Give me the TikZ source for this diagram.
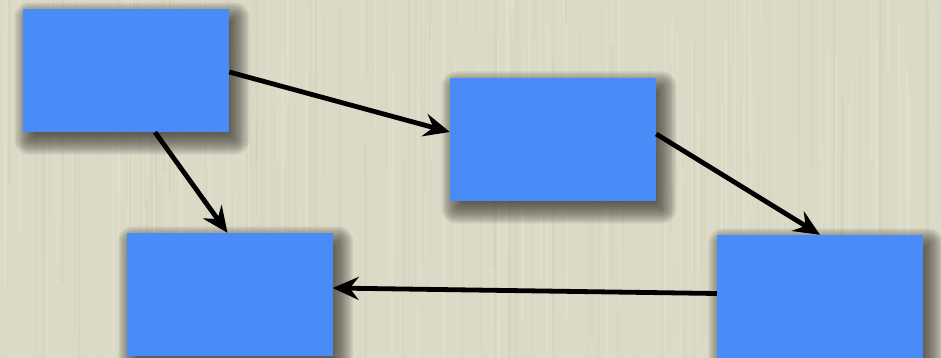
\documentclass[tikz,border=0pt]{standalone}
\usetikzlibrary{arrows.meta}

\definecolor{paper}{RGB}{219,218,198}
\definecolor{paperlight}{RGB}{230,229,212}
\definecolor{paperdark}{RGB}{204,203,180}
\definecolor{boxblue}{RGB}{73,140,248}

\pgfdeclarelayer{paperlayer}
\pgfdeclarelayer{shadowlayer}
\pgfsetlayers{paperlayer,shadowlayer,main}

\tikzset{
  block/.style={fill=boxblue, draw=none, inner sep=0pt,
    minimum width=206pt, minimum height=123pt},
  link/.style={line width=4.8pt, black,
    -{Stealth[length=26pt, width=23pt, inset=9pt]}}
}

% soft drop shadow behind a named block
\newcommand{\softshadow}[1]{%
  \begin{pgfonlayer}{shadowlayer}
    \foreach \e in {-8,-6.5,...,15} {
      \fill[black!85!olive, opacity=0.08, rounded corners={max(\e,0)*1pt+1pt}]
        ([shift={(6-\e,8-\e)}]#1.north west) rectangle
        ([shift={(6+\e,8+\e)}]#1.south east);
    }
  \end{pgfonlayer}}

\begin{document}
\begin{tikzpicture}[x=1pt, y=-1pt]
  \useasboundingbox (0,0) rectangle (941,358);
  % paper background with fine vertical grain
  \begin{pgfonlayer}{paperlayer}
    \begin{scope}
      \clip (0,0) rectangle (941,358);
      \fill[paper] (0,0) rectangle (941,358);
      \pgfmathsetseed{7}
      \foreach \i in {1,...,320} {
        \pgfmathsetmacro{\gx}{941*rnd}
        \pgfmathsetmacro{\gw}{0.8+2.4*rnd}
        \pgfmathsetmacro{\gy}{358*rnd-150}
        \pgfmathsetmacro{\gl}{120+300*rnd}
        \pgfmathsetmacro{\go}{0.15+0.35*rnd}
        \pgfmathparse{rnd<0.55 ? 1 : 0}
        \ifnum\pgfmathresult=1
          \draw[paperlight, line width=\gw pt, opacity=\go] (\gx,\gy) -- (\gx,\gy+\gl);
        \else
          \draw[paperdark, line width=\gw pt, opacity=\go*0.6] (\gx,\gy) -- (\gx,\gy+\gl);
        \fi
      }
    \end{scope}
  \end{pgfonlayer}

  % blocks
  \node[block] (a) at (126,70.5) {};
  \node[block] (b) at (553,139.5) {};
  \node[block] (c) at (229.5,294.5) {};
  \node[block] (d) at (820,296.5) {};
  \begin{scope}
    \clip (0,0) rectangle (941,358);
    \softshadow{a}
    \softshadow{b}
    \softshadow{c}
    \softshadow{d}
  \end{scope}

  % connectors
  \draw[link] ([yshift=-1.5pt]a.east) -- ([yshift=7.5pt]b.west);
  \draw[link] ([xshift=29pt]a.south) -- ([xshift=-2pt]c.north);
  \draw[link] ([yshift=5.5pt]b.east) -- (d.north);
  \draw[link] ([yshift=3pt]d.west) -- ([yshift=6.5pt]c.east);
\end{tikzpicture}
\end{document}
